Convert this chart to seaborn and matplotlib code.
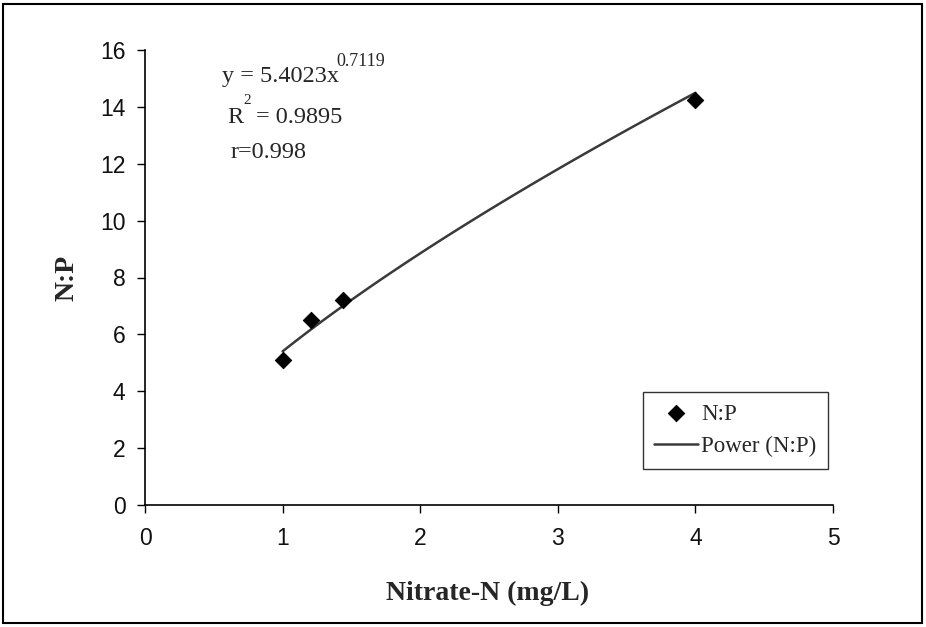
import numpy as np
import pandas as pd
import matplotlib
matplotlib.use("Agg")
import matplotlib.pyplot as plt
import seaborn as sns
from matplotlib.patches import Rectangle

# data
nitrate = [1.0, 1.21, 1.44, 4.0]
np_ratio = [5.1, 6.5, 7.2, 14.25]
# power trendline coefficients as printed on chart
fit_a = 5.4023
fit_b = 0.7119
x_ticks = [0, 1, 2, 3, 4, 5]
y_ticks = [0, 2, 4, 6, 8, 10, 12, 14, 16]

sns.set_theme(style="white")
plt.rcParams['font.family'] = ['Liberation Sans', 'DejaVu Sans']
serif = "Liberation Serif"

fig = plt.figure(figsize=(9.26, 6.27), dpi=100)
ax = fig.add_axes([145/926, 1-505/627, (833-145)/926, (505-50)/627])

df = pd.DataFrame({"x": nitrate, "y": np_ratio})
xf = np.linspace(min(nitrate), max(nitrate), 100)
fit_df = pd.DataFrame({"x": xf, "y": fit_a * xf ** fit_b})

sns.lineplot(data=fit_df, x="x", y="y", ax=ax, color="#3a3a3a", lw=1.8,
             label="Power (N:P)", zorder=2)
sns.scatterplot(data=df, x="x", y="y", ax=ax, marker="D", s=70, color="black",
                edgecolor="black", label="N:P", zorder=3)

ax.set_xlim(0, 5)
ax.set_ylim(0, 16)
ax.set_xticks(x_ticks)
ax.set_yticks(y_ticks)
ax.tick_params(axis="both", labelsize=16.5, length=6, width=1, color="black",
               labelcolor="#111111", direction="out", bottom=True, left=True)
ax.tick_params(axis="x", pad=10)
ax.tick_params(axis="y", pad=8)
for s in ["top", "right"]:
    ax.spines[s].set_visible(False)
for s in ["left", "bottom"]:
    ax.spines[s].set_color("black")
    ax.spines[s].set_linewidth(1.2)

ax.set_xlabel("Nitrate-N (mg/L)", fontsize=20, fontweight="bold", family=serif)
ax.set_ylabel("N:P", fontsize=20, fontweight="bold", family=serif)
ax.xaxis.label.set_va("center")
ax.yaxis.label.set_va("center")
ax.xaxis.set_label_coords((488-145)/688, (505-593)/455)
ax.yaxis.set_label_coords((67-145)/688, 0.5)

# annotation text
t1 = ax.text(0.56, 14.87, "y = 5.4023x", fontsize=17.5, family=serif, va="baseline")
ax.annotate("0.7119", xy=(1, 0), xycoords=t1, xytext=(-2, 12),
            textcoords="offset points", fontsize=13, family=serif, va="bottom")
tR = ax.text(0.596, 13.43, "R", fontsize=17.5, family=serif, va="baseline")
ax.annotate("2", xy=(1, 0), xycoords=tR, xytext=(0, 15.5),
            textcoords="offset points", fontsize=11, family=serif, va="bottom")
ax.annotate("= 0.9895", xy=(1, 0), xycoords=tR, xytext=(9, 0),
            textcoords="offset points", fontsize=17.5, family=serif, va="bottom")
ax.text(0.62, 12.2, "r=0.998", fontsize=17.5, family=serif, va="baseline")

h, l = ax.get_legend_handles_labels()
order = [l.index("N:P"), l.index("Power (N:P)")]
leg = ax.legend([h[i] for i in order], [l[i] for i in order],
                loc="upper left", bbox_to_anchor=((643-145)/688, (505-392)/455),
                prop={"family": serif, "size": 16.5}, frameon=True,
                fancybox=False, edgecolor="black", borderaxespad=0,
                handlelength=1.9, handletextpad=0.15, labelspacing=0.5,
                borderpad=0.5)
leg.get_frame().set_linewidth(1.0)

fig.patches.append(Rectangle((3/926, 4/627), 919/926, 619/627, transform=fig.transFigure,
                             fill=False, edgecolor="black", lw=1.5))

fig.savefig("out.png", dpi=100)
